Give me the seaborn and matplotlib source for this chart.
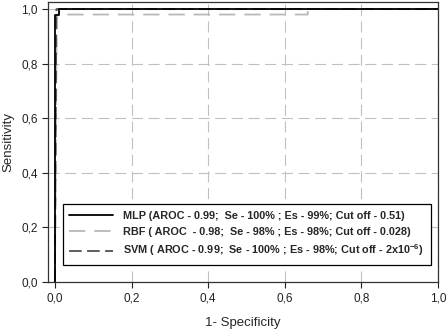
import pandas as pd
import numpy as np
import matplotlib
matplotlib.use("Agg")
import matplotlib.pyplot as plt
import seaborn as sns

# ROC curves
mlp_fpr = [0.0, 0.0, 0.01, 0.01, 1.0]
mlp_tpr = [0.0, 0.98, 0.98, 1.0, 1.0]
rbf_fpr = [0.0, 0.005, 0.66, 0.66, 1.0]
rbf_tpr = [0.0, 0.98, 0.98, 1.0, 1.0]
svm_fpr = [0.0, 0.004, 0.02, 1.0]
svm_tpr = [0.0, 1.0, 1.0, 1.0]

labels = ['MLP (AROC - 0.99;  Se - 100% ; Es - 99%; Cut off - 0.51)',
          'RBF ( AROC  - 0.98;  Se - 98% ; Es - 98%; Cut off - 0.028)',
          r'SVM ( AROC - 0.99;  Se - 100% ; Es - 98%; Cut off - 2x10$^{-6}$)']
ticks = [0.0, 0.2, 0.4, 0.6, 0.8, 1.0]
tick_labels = ['0,0', '0,2', '0,4', '0,6', '0,8', '1,0']

sns.set_theme(style="ticks")
plt.rcParams['font.family'] = ['Liberation Sans', 'DejaVu Sans']
plt.rcParams['mathtext.fontset'] = 'custom'
plt.rcParams['mathtext.rm'] = 'Liberation Sans:bold'
plt.rcParams['mathtext.it'] = 'Liberation Sans:bold'
plt.rcParams['mathtext.default'] = 'rm'

fig = plt.figure(figsize=(4.46, 3.29), dpi=100)
ax = fig.add_axes([0.1076, 0.143, 0.8744, 0.851])

for v in ticks[1:]:
    ax.axvline(v, color='#c0c0c0', lw=0.8, dashes=(10, 5), zorder=0)
    ax.axhline(v, color='#c0c0c0', lw=0.8, dashes=(10, 5), zorder=0)

sns.lineplot(x=rbf_fpr, y=rbf_tpr, sort=False, estimator=None, ax=ax,
             color='#b8b8b8', lw=1.3, label=labels[1])
ax.lines[-1].set_dashes((9, 5))
sns.lineplot(x=svm_fpr, y=svm_tpr, sort=False, estimator=None, ax=ax,
             color='#505050', lw=1.3, label=labels[2])
ax.lines[-1].set_dashes((7, 3))
sns.lineplot(x=mlp_fpr, y=mlp_tpr, sort=False, estimator=None, ax=ax,
             color='black', lw=1.3, label=labels[0])

ax.set_xlim(-0.018, 1.0)
ax.set_ylim(0, 1.026)
ax.set_xticks(ticks)
ax.set_xticklabels(tick_labels)
ax.set_yticks(ticks)
ax.set_yticklabels(tick_labels)
ax.tick_params(labelsize=8.5, length=4, width=0.8, colors='#222222')
for s in ax.spines.values():
    s.set_color('#333333')
    s.set_linewidth(0.9)
ax.set_xlabel('1- Specificity', fontsize=9.5, labelpad=9)
ax.set_ylabel('Sensitivity', fontsize=9.5, labelpad=5)

h, l = ax.get_legend_handles_labels()
order = [2, 0, 1]
leg = ax.legend([h[i] for i in order], [l[i] for i in order],
                loc='lower left', bbox_to_anchor=(0.038, 0.061, 0.944, 0.214),
                mode='expand', fancybox=False, framealpha=1, edgecolor='black',
                prop={'weight': 'bold', 'size': 7.8}, handlelength=4.0,
                handletextpad=1.0, borderaxespad=0, labelspacing=0.55,
                borderpad=0.6)
leg.get_frame().set_linewidth(0.9)

fig.savefig('out.png', dpi=100)
